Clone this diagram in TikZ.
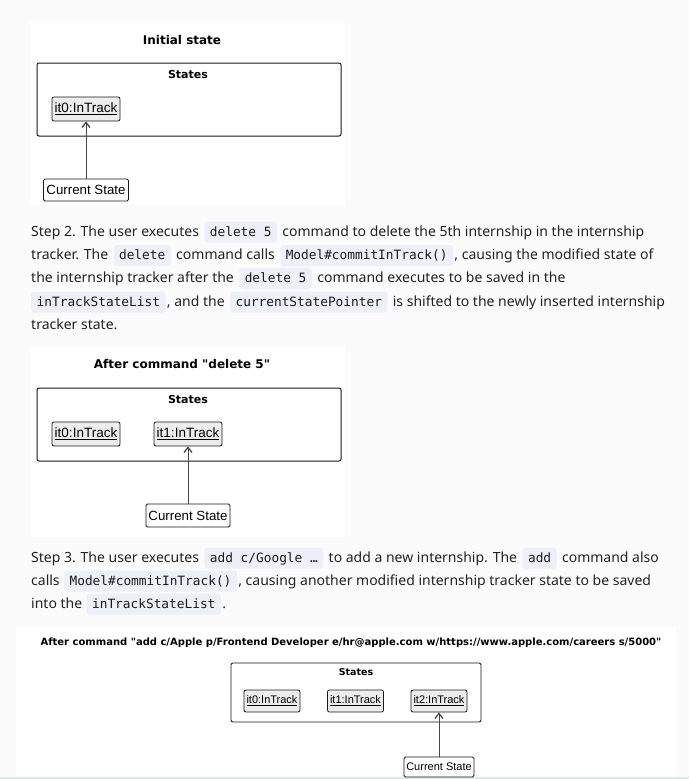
\documentclass[tikz,border=0pt]{standalone}
\usepackage{fontspec}
\setmainfont{Noto Sans}
\newfontfamily\umlfont{DejaVu Sans}
\newfontfamily\objfont{Liberation Sans}
\newfontfamily\codefont{DejaVu Sans Mono}
\usetikzlibrary{arrows.meta,positioning}
\definecolor{pagebg}{HTML}{FBFBFB}
\definecolor{codebg}{HTML}{EEF0F9}
\definecolor{txt}{HTML}{222222}
\definecolor{codetxt}{HTML}{1A1A1A}
\definecolor{umlline}{HTML}{181818}
\definecolor{objfill}{HTML}{EDEDED}
\definecolor{rulec}{HTML}{E2E8E8}
\tikzset{
  body/.style={inner sep=0pt, anchor=base west, text=txt, font=\fontsize{14}{16}\selectfont},
  codebox/.style={inner xsep=5.5pt, inner ysep=4.5pt, text height=10pt, text depth=2pt,
    fill=codebg, rounded corners=3pt, anchor=base west, text=codetxt,
    font=\codefont\fontsize{12.8}{14}\selectfont},
  umltitle/.style={inner sep=0pt, text=black, font=\umlfont\bfseries\fontsize{12}{14}\selectfont},
  pkglabel/.style={inner sep=0pt, text=black, font=\umlfont\bfseries\fontsize{11}{13}\selectfont},
  pkg/.style={draw=umlline, line width=1pt, rounded corners=2pt, inner sep=0pt},
  obj/.style={draw=umlline, line width=0.8pt, fill=objfill, rounded corners=2pt, inner sep=0pt,
    minimum width=68pt, minimum height=24pt, font=\objfont\fontsize{13.5}{15}\selectfont},
  cur/.style={draw=umlline, line width=0.8pt, fill=white, rounded corners=1.5pt, inner sep=0pt,
    minimum width=85pt, minimum height=22pt, font=\objfont\fontsize{13.3}{15}\selectfont},
  ptr/.style={draw=umlline!80, line width=0.9pt, -{Straight Barb[length=5pt,width=8pt,line width=1.3pt]}},
  panel/.style={fill=white, draw=none}
}
\begin{document}
\begin{tikzpicture}[x=1pt,y=-1pt]
\useasboundingbox (0,0) rectangle (689,779);
\fill[pagebg] (0,0) rectangle (689,779);
% panels
\fill[panel] (30,22) rectangle (345,205);
\fill[panel] (30,347) rectangle (345,537);
\fill[panel] (16,627) rectangle (676,777);
\fill[rulec] (0,777) rectangle (689,779);

% ---------- Diagram 1 ----------
\node[umltitle] (t1) at (182,40) {Initial state};
\node[pkg, minimum width=304pt, minimum height=73pt] (st1) at (189,99.5) {};
\node[pkglabel] (st1l) at (188,74) {States};
\node[obj] (a0) at (86,109) {\underline{it0:InTrack}};
\node[cur] (c1) at (86,190) {Current State};
\draw[ptr] (c1.north) -- (a0.south);

% ---------- Paragraph step 2 ----------
\node[body] (p1a) at (31,236) {Step 2. The user executes};
\node[codebox] (p1b) at ([xshift=5pt]p1a.base east) {delete 5};
\node[body] (p1c) at ([xshift=5pt]p1b.base east) {command to delete the 5th internship in the internship};

\node[body] (p2a) at (31,259.5) {tracker. The};
\node[codebox] (p2b) at ([xshift=5pt]p2a.base east) {delete};
\node[body] (p2c) at ([xshift=5pt]p2b.base east) {command calls};
\node[codebox] (p2d) at ([xshift=5pt]p2c.base east) {Model\#commitInTrack()};
\node[body] (p2e) at ([xshift=1pt]p2d.base east) {, causing the modified state of};

\node[body] (p3a) at (31,282.5) {the internship tracker after the};
\node[codebox] (p3b) at ([xshift=5pt]p3a.base east) {delete 5};
\node[body] (p3c) at ([xshift=5pt]p3b.base east) {command executes to be saved in the};

\node[codebox] (p4a) at (31,306) {inTrackStateList};
\node[body] (p4b) at ([xshift=1pt]p4a.base east) {, and the};
\node[codebox] (p4c) at ([xshift=5pt]p4b.base east) {currentStatePointer};
\node[body] (p4d) at ([xshift=5pt]p4c.base east) {is shifted to the newly inserted internship};

\node[body] (p5a) at (31,329) {tracker state.};

% ---------- Diagram 2 ----------
\node[umltitle] (t2) at (182,364) {After command "delete 5"};
\node[pkg, minimum width=304pt, minimum height=73pt] (st2) at (189,424.5) {};
\node[pkglabel] (st2l) at (188,399) {States};
\node[obj] (b0) at (86,434) {\underline{it0:InTrack}};
\node[obj] (b1) at (188,434) {\underline{it1:InTrack}};
\node[cur, minimum height=23pt, minimum width=84pt] (c2) at (188,515.5) {Current State};
\draw[ptr] (c2.north) -- (b1.south);

% ---------- Paragraph step 3 ----------
\node[body] (q1a) at (31,562) {Step 3. The user executes};
\node[codebox] (q1b) at ([xshift=5pt]q1a.base east) {add c/Google …};
\node[body] (q1c) at ([xshift=5pt]q1b.base east) {to add a new internship. The};
\node[codebox] (q1d) at ([xshift=5pt]q1c.base east) {add};
\node[body] (q1e) at ([xshift=5pt]q1d.base east) {command also};

\node[body] (q2a) at (31,585) {calls};
\node[codebox] (q2b) at ([xshift=4pt]q2a.base east) {Model\#commitInTrack()};
\node[body] (q2c) at ([xshift=1pt]q2b.base east) {, causing another modified internship tracker state to be saved};

\node[body] (q3a) at (31,608) {into the};
\node[codebox] (q3b) at ([xshift=4pt]q3a.base east) {inTrackStateList};
\node[body] (q3c) at ([xshift=1pt]q3b.base east) {.};

% ---------- Diagram 3 ----------
\node[umltitle, font=\umlfont\bfseries\fontsize{10}{12}\selectfont] (t3) at (351,643)
  {After command "add c/Apple p/Frontend Developer e/hr@apple.com w/https://www.apple.com/careers s/5000"};
\node[pkg, line width=0.85pt, minimum width=250pt, minimum height=59pt] (st3) at (356,692.5) {};
\node[pkglabel, font=\umlfont\bfseries\fontsize{9.5}{11}\selectfont] (st3l) at (356,672) {States};
\node[obj, minimum width=56pt, minimum height=22pt, font=\objfont\fontsize{11}{13}\selectfont] (d0) at (272,701) {\underline{it0:InTrack}};
\node[obj, minimum width=56pt, minimum height=22pt, font=\objfont\fontsize{11}{13}\selectfont] (d1) at (355.5,701) {\underline{it1:InTrack}};
\node[obj, minimum width=56pt, minimum height=22pt, font=\objfont\fontsize{11}{13}\selectfont] (d2) at (439,701) {\underline{it2:InTrack}};
\node[cur, minimum width=70pt, minimum height=20pt, font=\objfont\fontsize{11}{13}\selectfont] (c3) at (439,767) {Current State};
\draw[ptr] (c3.north) -- (d2.south);
\end{tikzpicture}
\end{document}
